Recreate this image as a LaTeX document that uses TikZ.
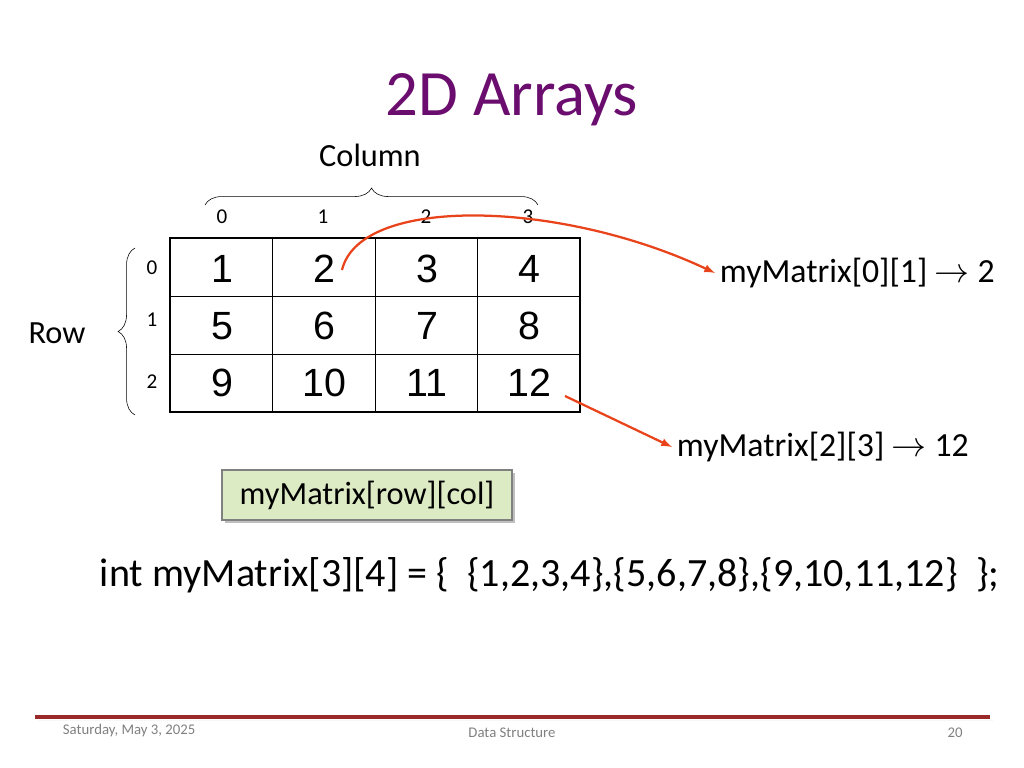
\documentclass[tikz,border=0pt]{standalone}
\usepackage{fontspec}
\setmainfont{Carlito}
\newfontfamily\cellfont{Liberation Sans}
\usetikzlibrary{decorations.pathreplacing,shadows}
\definecolor{titlepurple}{HTML}{6A0D6E}
\definecolor{arroworange}{HTML}{E8431A}
\definecolor{boxgreen}{HTML}{DDEBC4}
\definecolor{footred}{HTML}{9A2A2A}
\begin{document}
\begin{tikzpicture}[x=0.025cm, y=-0.025cm,
    idx/.style={font=\fontsize{15}{17}\selectfont},
    cell/.style={font=\cellfont\fontsize{28}{32}\selectfont},
    lbl/.style={font=\fontsize{24}{28}\selectfont, anchor=west},
    foot/.style={font=\fontsize{10.5}{12}\selectfont, text=gray}]
            \useasboundingbox (0, 0) rectangle (1024, 768);
            \node[font=\fontsize{46}{52}\selectfont, text=titlepurple] (title) at (512, 100) {2D Arrays};
            % matrix
            \draw[line width=2pt] (170, 238) rectangle (580, 412);
            \foreach \x in {272.5, 375, 477.5} \draw (\x, 238) -- (\x, 412);
            \foreach \y in {296, 354} \draw (170, \y) -- (580, \y);
            \foreach \v [count=\i from 0] in {1,2,3,4,5,6,7,8,9,10,11,12} {
                \pgfmathsetmacro\cx{222 + 102.5*mod(\i,4)}
                \pgfmathsetmacro\cy{269 + 57*int(\i/4)}
                \node[cell] (c\i) at (\cx, \cy) {\v};
            }
            % indices
            \foreach \c [count=\i from 0] in {222, 323, 426, 528}
                \node[idx] (col\i) at (\c, 217) {\i};
            \foreach \r [count=\i from 0] in {268, 320, 382}
                \node[idx] (row\i) at (152, \r) {\i};
            \draw[decorate, decoration={brace, amplitude=12pt, aspect=0.5}] (205, 205) -- (538, 205);
            \node[font=\fontsize{23}{26}\selectfont] (colname) at (370, 155) {Column};
            \draw[decorate, decoration={brace, amplitude=12pt}] (135, 415) -- (135, 248);
            \node[font=\fontsize{23}{26}\selectfont] (rowname) at (57, 333) {Row};
            % accesses
            \node[lbl] (acc1) at (715, 273) {myMatrix[0][1] $\rightarrow$ 2};
            \node[lbl] (acc2) at (672, 447) {myMatrix[2][3] $\rightarrow$ 12};
            \coordinate (s1) at (342, 270);
            \coordinate (s2) at (565, 396);
            \draw[arroworange, line width=1.6pt, -latex] (s1) .. controls (360, 195) and (560, 200) .. (acc1.west);
            \draw[arroworange, line width=1.6pt, -latex] (s2) -- (acc2.west);
            \node[draw=gray, thick, fill=boxgreen, drop shadow, minimum width=290*0.025cm, minimum height=50*0.025cm, font=\fontsize{23}{26}\selectfont] (usage) at (367, 495) {myMatrix[row][col]};
            \node[font=\fontsize{28.5}{32}\selectfont, anchor=west] (decl) at (95, 575) {int myMatrix[3][4] = \{ \ \{1,2,3,4\},\{5,6,7,8\},\{9,10,11,12\} \ \};};
            % footer
            \draw[line width=2.5pt, footred, drop shadow] (35, 717) -- (990, 717);
            \node[foot, anchor=west] (date) at (58, 731) {Saturday, May 3, 2025};
            \node[foot] (course) at (512, 733) {Data Structure};
            \node[foot] (page) at (955, 733) {20};
        \end{tikzpicture}
\end{document}
